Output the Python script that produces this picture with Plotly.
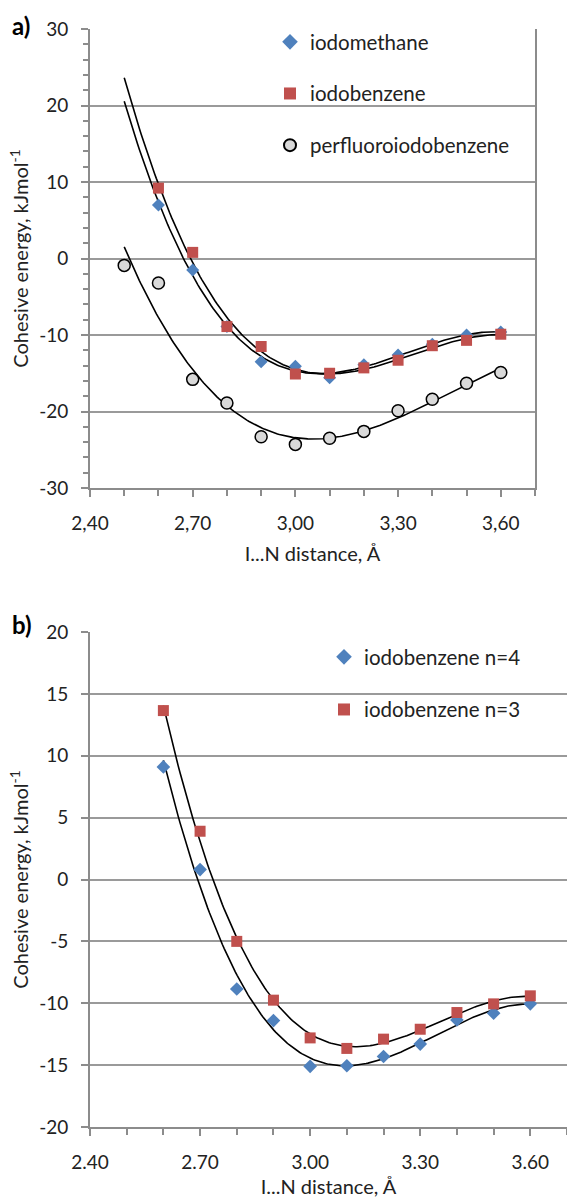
import numpy as np
import plotly.graph_objects as go

# ---------------- data: panel a ----------------
dist_a_perf = [2.5, 2.6, 2.7, 2.8, 2.9, 3.0, 3.1, 3.2, 3.3, 3.4, 3.5, 3.6]
dist_a = [2.6, 2.7, 2.8, 2.9, 3.0, 3.1, 3.2, 3.3, 3.4, 3.5, 3.6]
iodomethane = [7.0, -1.5, -8.9, -13.5, -14.1, -15.6, -13.9, -12.6, -11.2, -10.0, -9.6]
iodobenzene = [9.2, 0.8, -8.9, -11.5, -15.1, -15.0, -14.3, -13.3, -11.4, -10.7, -9.9]
perfluoroiodobenzene = [-0.9, -3.2, -15.8, -18.9, -23.3, -24.3, -23.5, -22.6, -19.9, -18.4, -16.3, -14.9]

# ---------------- data: panel b ----------------
dist_b = [2.6, 2.7, 2.8, 2.9, 3.0, 3.1, 3.2, 3.3, 3.4, 3.5, 3.6]
iodobenzene_n4 = [9.1, 0.8, -8.85, -11.4, -15.1, -15.05, -14.3, -13.3, -11.35, -10.8, -10.05]
iodobenzene_n3 = [13.65, 3.9, -5.0, -9.75, -12.8, -13.65, -12.9, -12.1, -10.75, -10.05, -9.4]

# tick labels
x_tick_vals = [2.4, 2.7, 3.0, 3.3, 3.6]
x_tick_text_a = ["2,40", "2,70", "3,00", "3,30", "3,60"]
x_tick_text_b = ["2.40", "2.70", "3.00", "3.30", "3.60"]
y_tick_vals_a = [-30, -20, -10, 0, 10, 20, 30]
y_tick_text_a = ["-30", "-20", "-10", "0", "10", "20", "30"]
y_tick_vals_b = [-20, -15, -10, -5, 0, 5, 10, 15, 20]
y_tick_text_b = ["-20", "-15", "-10", "-5", "0", "5", "10", "15", "20"]

BLUE = "#4F81BD"
RED = "#C0504D"
GREY_FILL = "#D9D9D9"
AXIS = "#8C8C8C"
GRID = "#9A9A9A"
TXT = "#222222"
FONT = "Lato"
W, H = 567, 1198


def trend(x, y, x0, x1, deg=3):
    c = np.polyfit(x, y, deg)
    xs = np.linspace(x0, x1, 200)
    return xs, np.polyval(c, xs)


fig = go.Figure()

# ---- panel a ----
series_a = [
    ("iodomethane", dist_a, iodomethane, dict(symbol="diamond", size=10, color=BLUE), "a1"),
    ("iodobenzene", dist_a, iodobenzene, dict(symbol="square", size=11, color=RED), "a2"),
    ("perfluoroiodobenzene", dist_a_perf, perfluoroiodobenzene,
     dict(symbol="circle", size=12, color=GREY_FILL, line=dict(color="black", width=1.5)), "a3"),
]
for name, xv, yv, mk, grp in series_a:
    xs, ys = trend(xv, yv, 2.5, 3.6)
    fig.add_trace(go.Scatter(x=xs, y=ys, mode="lines", line=dict(color="black", width=1.6),
                             showlegend=False, hoverinfo="skip", xaxis="x", yaxis="y",
                             legend="legend", legendgroup=grp))
for name, xv, yv, mk, grp in series_a:
    fig.add_trace(go.Scatter(x=xv, y=yv, mode="markers", name=name, marker=mk,
                             xaxis="x", yaxis="y", legend="legend", legendgroup=grp))

# ---- panel b ----
series_b = [
    ("iodobenzene n=4", dist_b, iodobenzene_n4, dict(symbol="diamond", size=10.5, color=BLUE), "b1"),
    ("iodobenzene n=3", dist_b, iodobenzene_n3, dict(symbol="square", size=11, color=RED), "b2"),
]
for name, xv, yv, mk, grp in series_b:
    xs, ys = trend(xv, yv, 2.6, 3.6)
    fig.add_trace(go.Scatter(x=xs, y=ys, mode="lines", line=dict(color="black", width=1.6),
                             showlegend=False, hoverinfo="skip", xaxis="x2", yaxis="y2",
                             legend="legend2", legendgroup=grp))
for name, xv, yv, mk, grp in series_b:
    fig.add_trace(go.Scatter(x=xv, y=yv, mode="markers", name=name, marker=mk,
                             xaxis="x2", yaxis="y2", legend="legend2", legendgroup=grp))

tick_font = dict(family=FONT, size=19, color=TXT)
title_font = dict(family=FONT, size=20, color=TXT)
legend_font = dict(family=FONT, size=20.5, color=TXT)
ytitle = "Cohesive energy, kJmol<sup>-1</sup>"
xtitle = "I...N distance, Å"

xa_dom = [90 / W, 535 / W]
xb_dom = [90 / W, 1.0]
ya_dom = [1 - 488 / H, 1 - 29 / H]
yb_dom = [1 - 1127 / H, 1 - 632 / H]

common_x = dict(range=[2.4, 3.7], tickmode="array", tickvals=x_tick_vals,
                ticks="outside", ticklen=7, tickwidth=1.5, tickcolor=AXIS,
                minor=dict(tickmode="linear", tick0=2.4, dtick=0.1, ticks="outside", ticklen=6,
                           tickwidth=1.5, tickcolor=AXIS, showgrid=False),
                showline=True, linecolor=AXIS, linewidth=1.8, showgrid=False, zeroline=False,
                tickfont=tick_font, ticklabelstandoff=10, automargin=False,
                title=dict(text=xtitle, font=title_font, standoff=14))
common_y = dict(tickmode="array", ticks="outside", ticklen=7, tickwidth=1.5, tickcolor=AXIS,
                showline=True, linecolor=AXIS, linewidth=1.8,
                showgrid=True, gridcolor=GRID, gridwidth=1.5, zeroline=False,
                tickfont=tick_font, ticklabelstandoff=9, automargin=False,
                title=dict(text=ytitle, font=title_font, standoff=5))

fig.update_layout(
    width=W, height=H, margin=dict(l=0, r=0, t=0, b=0, autoexpand=False),
    paper_bgcolor="white", plot_bgcolor="white",
    font=dict(family=FONT, color=TXT),
    xaxis=dict(domain=xa_dom, anchor="y", ticktext=x_tick_text_a, **common_x),
    yaxis=dict(domain=ya_dom, anchor="x", range=[-30, 30],
               tickvals=y_tick_vals_a, ticktext=y_tick_text_a, mirror=True,
               minor=dict(tickmode="linear", tick0=-30, dtick=2, ticks="outside", ticklen=5,
                          tickwidth=1.5, tickcolor=AXIS, showgrid=False),
               **common_y),
    xaxis2=dict(domain=xb_dom, anchor="y2", ticktext=x_tick_text_b, **common_x),
    yaxis2=dict(domain=yb_dom, anchor="x2", range=[-20, 20],
                tickvals=y_tick_vals_b, ticktext=y_tick_text_b, **common_y),
    legend=dict(x=270 / W, y=1 - 22 / H, xanchor="left", yanchor="top",
                bgcolor="rgba(0,0,0,0)", font=legend_font,
                traceorder="grouped", tracegroupgap=22, itemsizing="constant"),
    legend2=dict(x=324 / W, y=1 - 637 / H, xanchor="left", yanchor="top",
                 bgcolor="rgba(0,0,0,0)", font=legend_font,
                 traceorder="grouped", tracegroupgap=23, itemsizing="constant"),
    annotations=[
        dict(text="<b>a)</b>", x=10 / W, y=1 - 25 / H, xref="paper", yref="paper",
             xanchor="left", yanchor="middle", showarrow=False, font=dict(family=FONT, size=24, color="black")),
        dict(text="<b>b)</b>", x=10 / W, y=1 - 624 / H, xref="paper", yref="paper",
             xanchor="left", yanchor="middle", showarrow=False, font=dict(family=FONT, size=24, color="black")),
    ],
)

fig.write_html("out.html", config={"displayModeBar": False},
               post_script="document.body.style.margin='0';document.body.style.padding='0';")
